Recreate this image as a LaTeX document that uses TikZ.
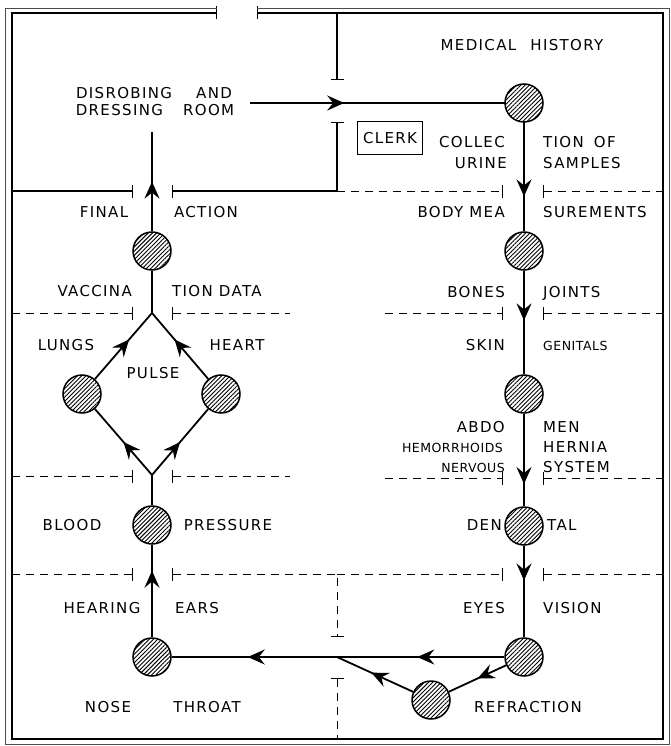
\documentclass[tikz,border=0pt]{standalone}
\usepackage{fontspec}
\newfontfamily\lett{DejaVu Sans}[LetterSpace=9]
\newfontfamily\lettn{DejaVu Sans}[LetterSpace=4]
\usetikzlibrary{arrows.meta,patterns.meta,decorations.markings}
\tikzset{
  myarr/.tip={Stealth[length=17pt,width=15pt,inset=6pt]},
  tk/.tip={Bar[width=13pt,line width=1pt]},
}
\begin{document}
\begin{tikzpicture}[x=1pt,y=-1pt,
  wall/.style={line width=1.1pt},
  outerwall/.style={line width=0.6pt, black!70},
  dwall/.style={line width=1pt, dash pattern=on 8pt off 6pt},
  flow/.style={line width=1.8pt},
  station/.style={circle, draw, line width=1.5pt, minimum size=38pt, inner sep=0pt,
    pattern={Lines[angle=45,distance=3pt,line width=0.9pt]}},
  lbl/.style={font=\lett\fontsize{15}{17}\selectfont, inner sep=0pt},
  slbl/.style={font=\lettn\fontsize{12.5}{14}\selectfont, inner sep=0pt},
  arrowat/.style={postaction={decorate,decoration={markings,mark=at position #1 with {\arrow{myarr}}}}},
]
\useasboundingbox (0,0) rectangle (671,746);

% ---------- frame ----------
\draw[wall,{tk}-{tk}] (217,13) -- (12,13) -- (12,739) -- (663,739) -- (663,13) -- (257,13);
\draw[outerwall] (217,8) -- (5,8) -- (5,744) -- (669,744) -- (669,8) -- (257,8);

% ---------- walls of dressing room ----------
\draw[wall,-{tk}] (337,13) -- (337,80);
\draw[wall,{tk}-{tk}] (337,122) -- (337,191) -- (172,191);
\draw[wall,-{tk}] (12,191) -- (133,191);

% ---------- dashed partitions ----------
\draw[dwall,-{tk}] (337,191) -- (503,191);
\draw[dwall,{tk}-] (543,191) -- (663,191);

\draw[dwall,-{tk}] (12,313) -- (133,313);
\draw[dwall,{tk}-] (172,313) -- (290,313);
\draw[dwall,-{tk}] (385,313) -- (503,313);
\draw[dwall,{tk}-] (543,313) -- (663,313);

\draw[dwall,-{tk}] (12,476) -- (133,476);
\draw[dwall,{tk}-] (172,476) -- (290,476);
\draw[dwall,-{tk}] (385,478) -- (503,478);
\draw[dwall,{tk}-] (543,478) -- (663,478);

\draw[dwall,-{tk}] (12,574) -- (133,574);
\draw[dwall,{tk}-{tk}] (172,574) -- (337,574) -- (337,637);
\draw[dwall,-{tk}] (337,574) -- (503,574);
\draw[dwall,{tk}-] (543,574) -- (663,574);
\draw[dwall,{tk}-] (337,678) -- (337,739);

% ---------- stations ----------
\node[station] (MH) at (524,103) {};
\node[station] (BM) at (524,251) {};
\node[station] (SK) at (524,394) {};
\node[station] (DT) at (524,526) {};
\node[station] (EY) at (524,657) {};
\node[station] (RF) at (431,700) {};
\node[station] (FA) at (152,251) {};
\node[station] (LU) at (82,394) {};
\node[station] (HE) at (221,394) {};
\node[station] (BP) at (152,525) {};
\node[station] (NT) at (152,657) {};

\coordinate (start) at (250,103);
\coordinate (finish) at (152,132);
\coordinate (dtop) at (152,313);
\coordinate (dbot) at (152,475);
\coordinate (J) at (337,657);

% ---------- flow ----------
\draw[flow,arrowat=0.37] (start) -- (MH);
\draw[flow,arrowat=0.68] (MH) -- (BM);
\draw[flow,arrowat=0.48] (BM) -- (SK);
\draw[flow,arrowat=0.76] (SK) -- (DT);
\draw[flow,arrowat=0.38] (DT) -- (EY);
\draw[flow,arrowat=0.52] (EY) -- (J);
\draw[flow,arrowat=0.5] (EY) -- (RF);
\draw[flow,arrowat=0.55] (RF) -- (J);
\draw[flow,arrowat=0.54] (J) -- (NT);
\draw[flow,arrowat=0.72] (NT) -- (BP);
\draw[flow] (BP) -- (dbot);
\draw[flow,arrowat=0.5] (dbot) -- (LU);
\draw[flow,arrowat=0.5] (dbot) -- (HE);
\draw[flow,arrowat=0.6] (LU) -- (dtop);
\draw[flow,arrowat=0.6] (HE) -- (dtop);
\draw[flow] (dtop) -- (FA);
\draw[flow,arrowat=0.5] (FA) -- (finish);

% ---------- clerk ----------
\node[draw,wall,lbl,minimum width=65pt,minimum height=33pt] (clerk) at (390,138) {CLERK};

% ---------- labels ----------
\node[lbl,anchor=base] (t1) at (154,98.5) {DISROBING \hspace{18pt}AND};
\node[lbl,anchor=base] (t2) at (155,116) {DRESSING \hspace{14pt}ROOM};
\node[lbl,anchor=base] (t3) at (522,50.5) {MEDICAL \hspace{8pt}HISTORY};
\node[lbl,anchor=base east] (t4) at (505,147.5) {COLLEC};
\node[lbl,anchor=base east] (t5) at (507,168) {URINE};
\node[lbl,anchor=base west] (t6) at (543,147.5) {TION \hspace{4pt}OF};
\node[lbl,anchor=base west] (t7) at (543,168) {SAMPLES};
\node[lbl,anchor=base] (t8) at (104,217) {FINAL};
\node[lbl,anchor=base] (t9) at (206,217) {ACTION};
\node[lbl,anchor=base east] (t10) at (505,217) {BODY MEA};
\node[lbl,anchor=base west] (t11) at (543,217) {SUREMENTS};
\node[lbl,anchor=base east] (t12) at (132,296) {VACCINA};
\node[lbl,anchor=base west] (t13) at (172,296) {TION DATA};
\node[lbl,anchor=base east] (t14) at (505,297) {BONES};
\node[lbl,anchor=base west] (t15) at (543,297) {JOINTS};
\node[lbl,anchor=base] (t16) at (66,350) {LUNGS};
\node[lbl,anchor=base] (t17) at (237,350) {HEART};
\node[lbl,anchor=base east] (t18) at (505,350) {SKIN};
\node[slbl,anchor=base west] (t19) at (543,350) {GENITALS};
\node[lbl,anchor=base] (t20) at (153,378) {PULSE};
\node[lbl,anchor=base east] (t21) at (505,432) {ABDO};
\node[lbl,anchor=base west] (t22) at (543,432) {MEN};
\node[slbl,anchor=base east] (t23) at (503,452) {HEMORRHOIDS};
\node[lbl,anchor=base west] (t24) at (543,452) {HERNIA};
\node[slbl,anchor=base east] (t25) at (505,472) {NERVOUS};
\node[lbl,anchor=base west] (t26) at (543,472) {SYSTEM};
\node[lbl,anchor=base] (t27) at (72,530) {BLOOD};
\node[lbl,anchor=base] (t28) at (228,530) {PRESSURE};
\node[lbl,anchor=base east] (t29) at (502,530) {DEN};
\node[lbl,anchor=base west] (t30) at (547,530) {TAL};
\node[lbl,anchor=base] (t31) at (102,613) {HEARING};
\node[lbl,anchor=base] (t32) at (197,613) {EARS};
\node[lbl,anchor=base east] (t33) at (505,613) {EYES};
\node[lbl,anchor=base west] (t34) at (543,613) {VISION};
\node[lbl,anchor=base] (t35) at (108,712) {NOSE};
\node[lbl,anchor=base] (t36) at (207,712) {THROAT};
\node[lbl,anchor=base] (t37) at (528,712) {REFRACTION};
\end{tikzpicture}
\end{document}
